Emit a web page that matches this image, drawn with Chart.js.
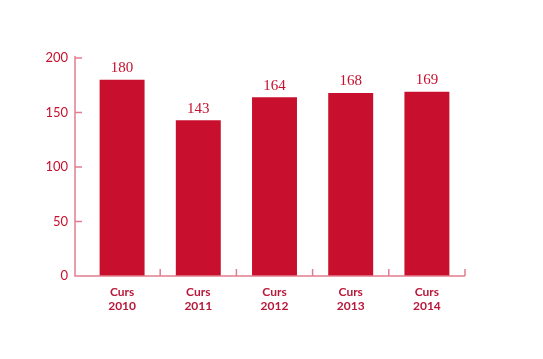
<!DOCTYPE html>
<html>
<head>
<meta charset="utf-8">
<script src="https://cdn.jsdelivr.net/npm/chart.js@4"></script>
<style>
  html, body { margin: 0; padding: 0; background: #fff; }
  #wrap { width: 543px; height: 359px; }
</style>
</head>
<body>
<div id="wrap"><canvas id="chart" width="543" height="359"></canvas></div>
<script>
const categories = [['Curs', '2010'], ['Curs', '2011'], ['Curs', '2012'], ['Curs', '2013'], ['Curs', '2014']];
const values = [180, 143, 164, 168, 169];
const yTicks = [0, 50, 100, 150, 200];

const RED = '#c8102e';
const AXIS = '#e27d8e';

// eixos dibuixats a mà: l'eix Y queda separat de la primera barra
const axesPlugin = {
  id: 'axes',
  afterDraw(chart) {
    const { ctx, scales: { x, y } } = chart;
    const left = 75;
    const y0 = y.getPixelForValue(0);
    ctx.save();
    ctx.strokeStyle = AXIS;
    ctx.lineWidth = 1.5;
    ctx.beginPath();
    ctx.moveTo(left, y.getPixelForValue(200) - 2);
    ctx.lineTo(left, y0);
    ctx.lineTo(x.right, y0);
    yTicks.forEach((v) => {
      const py = y.getPixelForValue(v);
      ctx.moveTo(left, py);
      ctx.lineTo(left + 7, py);
    });
    const w = (x.right - x.left) / categories.length;
    for (let i = 1; i <= categories.length; i++) {
      const px = x.left + w * i;
      ctx.moveTo(px, y0);
      ctx.lineTo(px, y0 - 7);
    }
    ctx.stroke();

    ctx.fillStyle = RED;
    ctx.font = '15px "Liberation Serif", serif';
    ctx.textAlign = 'center';
    ctx.textBaseline = 'bottom';
    chart.getDatasetMeta(0).data.forEach((bar, i) => {
      ctx.fillText(String(values[i]), bar.x, bar.y - 4);
    });
    ctx.restore();
  },
};

new Chart(document.getElementById('chart'), {
  type: 'bar',
  data: {
    labels: categories,
    datasets: [{ data: values, backgroundColor: RED, categoryPercentage: 1, barPercentage: 0.59 }],
  },
  options: {
    responsive: false,
    animation: false,
    layout: { padding: { top: 58, right: 78, left: 0, bottom: 0 } },
    plugins: { legend: { display: false }, tooltip: { enabled: false } },
    scales: {
      x: {
        grid: { display: false, drawTicks: false },
        border: { display: false },
        ticks: { color: '#b8173a', font: { family: 'Lato', size: 12, weight: 'bold', lineHeight: 1.1 }, padding: 10 },
        afterFit: (s) => { s.height = 83; },
      },
      y: {
        min: 0,
        max: 200,
        afterBuildTicks: (s) => { s.ticks = yTicks.map((v) => ({ value: v })); },
        grid: { display: false, drawTicks: false },
        border: { display: false },
        ticks: { color: RED, font: { family: 'Lato', size: 13 }, padding: 16 },
        afterFit: (s) => { s.width = 84; },
      },
    },
  },
  plugins: [axesPlugin],
});
</script>
</body>
</html>
